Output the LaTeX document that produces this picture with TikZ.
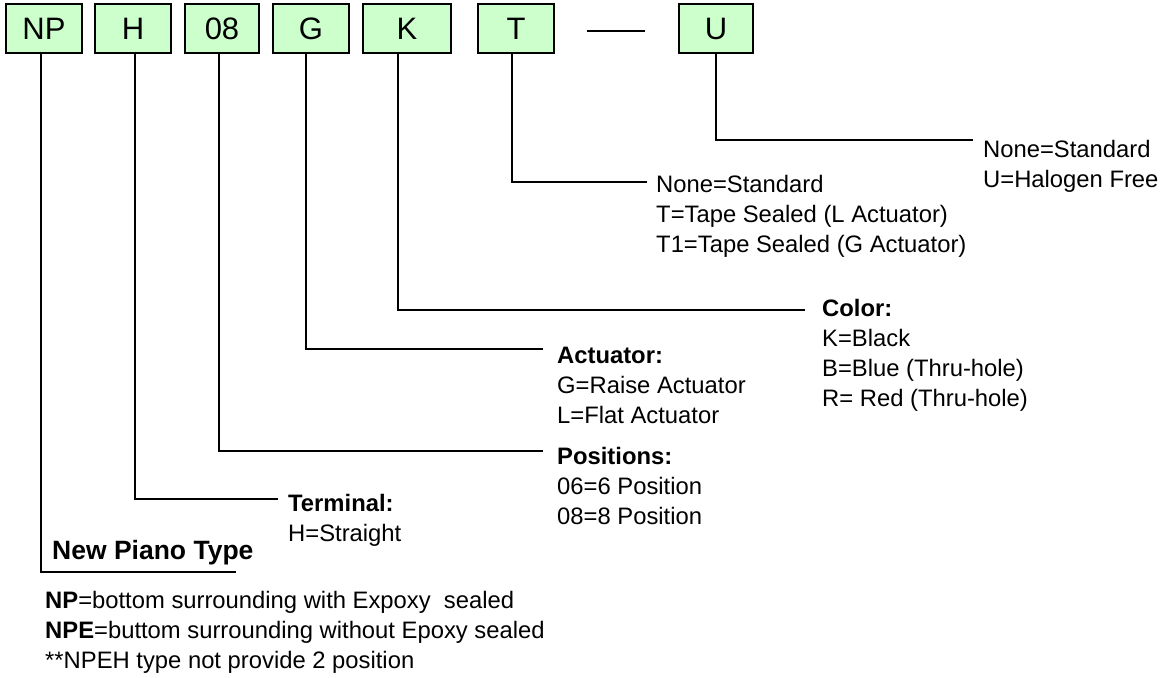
\documentclass[tikz,border=0pt]{standalone}
\usepackage{fontspec}
\setmainfont{Liberation Sans}
\usetikzlibrary{positioning}
\definecolor{boxgreen}{RGB}{204,255,204}

\tikzset{
  codebox/.style={draw=black, line width=2pt, fill=boxgreen, minimum height=49,
    inner sep=0, font=\fontsize{31}{31}\selectfont},
  lead/.style={line width=2pt},
  desc/.style={anchor=base west, inner sep=0, align=left,
    font=\fontsize{23.8}{29.7}\selectfont},
}

\begin{document}
\begin{tikzpicture}[x=1pt, y=-1pt]
\useasboundingbox (0,0) rectangle (1161,677);

\node [codebox, minimum width=76] (np)   at (44,28.5)  {NP};
\node [codebox, minimum width=76] (term) at (133,28.5) {H};
\node [codebox, minimum width=74] (pos)  at (222,28.5) {08};
\node [codebox, minimum width=76] (act)  at (311,28.5) {G};
\node [codebox, minimum width=88] (col)  at (407,28.5) {K};
\node [codebox, minimum width=76] (seal) at (516,28.5) {T};
\node [codebox, minimum width=74] (hf)   at (716,28.5) {U};
\coordinate (d1) at (587,31);
\coordinate (d2) at (645,31);
\draw [lead] (d1) -- (d2);

\coordinate (e1) at (236,572);
\coordinate (e2) at (278,499);
\coordinate (e3) at (543,451);
\coordinate (e4) at (543,349);
\coordinate (e5) at (805,310);
\coordinate (e6) at (647,182);
\coordinate (e7) at (973,140);

\draw [lead] ([xshift=-3]np.south)   |- (e1);
\draw [lead] ([xshift=2]term.south)  |- (e2);
\draw [lead] ([xshift=-3]pos.south)  |- (e3);
\draw [lead] ([xshift=-5]act.south)  |- (e4);
\draw [lead] ([xshift=-9]col.south)  |- (e5);
\draw [lead] ([xshift=-4]seal.south) |- (e6);
\draw [lead] (hf.south)              |- (e7);

% base of a multi-line node = baseline of its last line
\node [desc] (l7) at (983,187) {None=Standard\\U=Halogen Free};
\node [desc] (l6) at (656,252) {None=Standard\\T=Tape Sealed (L Actuator)\\T1=Tape Sealed (G Actuator)};
\node [desc] (l5) at (822,406) {\textbf{Color:}\\K=Black\\B=Blue (Thru-hole)\\R= Red (Thru-hole)};
\node [desc] (l4) at (557,423) {\textbf{Actuator:}\\G=Raise Actuator\\L=Flat Actuator};
\node [desc] (l3) at (557,524) {\textbf{Positions:}\\06=6 Position\\08=8 Position};
\node [desc] (l2) at (288,541) {\textbf{Terminal:}\\H=Straight};
\node [desc, font=\bfseries\fontsize{26.5}{30}\selectfont] (l1) at (52,559) {New Piano Type};
\node [desc] (note) at (45,668) {\textbf{NP}=bottom surrounding with Expoxy~ sealed\\
  \textbf{NPE}=buttom surrounding without Epoxy sealed\\
  **NPEH type not provide 2 position};
\end{tikzpicture}
\end{document}
